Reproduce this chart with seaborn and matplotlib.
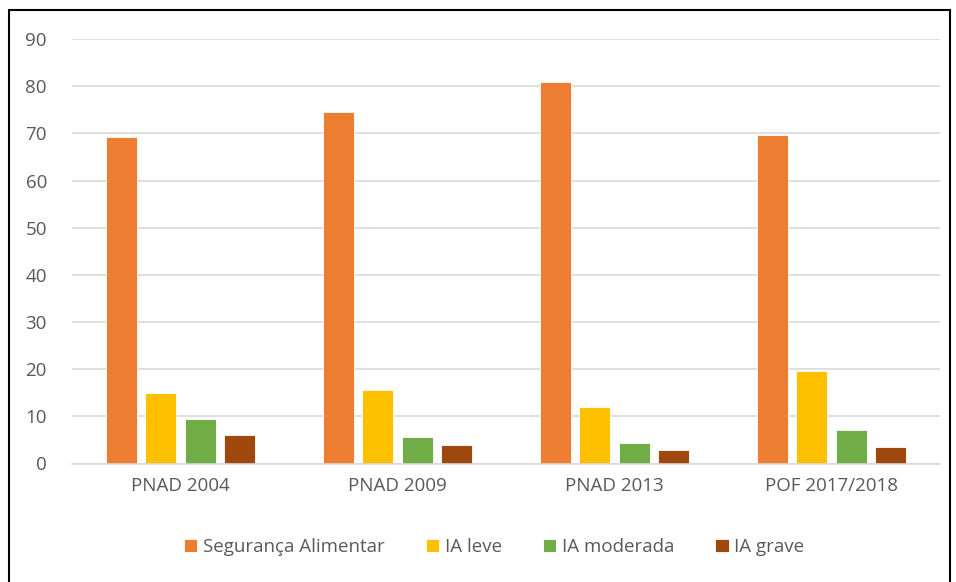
import pandas as pd
import matplotlib.pyplot as plt
import seaborn as sns
from matplotlib.patches import Rectangle

surveys = ["PNAD 2004", "PNAD 2009", "PNAD 2013", "POF 2017/2018"]
levels = ["Segurança Alimentar", "IA leve", "IA moderada", "IA grave"]
seguranca = [69.2, 74.5, 80.8, 69.7]
ia_leve = [15.0, 15.5, 12.0, 19.6]
ia_moderada = [9.5, 5.7, 4.4, 7.0]
ia_grave = [6.1, 4.0, 2.8, 3.5]
colors = ["#ED7D31", "#FFC000", "#70AD47", "#9E480E"]

rows = []
for name, vals in zip(levels, [seguranca, ia_leve, ia_moderada, ia_grave]):
    for s, v in zip(surveys, vals):
        rows.append({"survey": s, "level": name, "value": v})
df = pd.DataFrame(rows)

sns.set_theme(style="white")
plt.rcParams["font.family"] = ["Open Sans", "DejaVu Sans"]

fig = plt.figure(figsize=(9.56, 5.82), dpi=100)
ax = fig.add_axes([72 / 956, 1 - 463.5 / 582, 868 / 956, 424.5 / 582])

sns.barplot(data=df, x="survey", y="value", hue="level", order=surveys,
            hue_order=levels, palette=colors, saturation=1, width=0.73, gap=0.22,
            edgecolor="white", linewidth=0.6, ax=ax)

ax.set_xlim(-0.5, 3.5)
ax.set_ylim(0, 90)
ax.set_yticks(range(0, 91, 10))
ax.grid(axis="y", color="#D9D9D9", linewidth=1.2)
ax.set_axisbelow(True)
for side in ["top", "right", "left"]:
    ax.spines[side].set_visible(False)
ax.spines["bottom"].set_color("#D9D9D9")
ax.spines["bottom"].set_linewidth(1.2)
ax.tick_params(axis="both", length=0, labelsize=13.5, labelcolor="#595959")
ax.tick_params(axis="y", pad=18)
ax.tick_params(axis="x", pad=10)
ax.set_xlabel("")
ax.set_ylabel("")

handles, labels = ax.get_legend_handles_labels()
ax.legend_.remove()
fig.legend(handles, labels, loc="center", bbox_to_anchor=(0.517, 1 - 547 / 582),
           ncol=4, frameon=False, fontsize=13.5, labelcolor="#595959",
           handlelength=0.7, handleheight=0.7, handletextpad=0.3, columnspacing=2.2)

fig.patches.append(Rectangle((9 / 956, -0.01), 941 / 956, 1 - 10 / 582 + 0.01,
                             transform=fig.transFigure, fill=False,
                             edgecolor="black", linewidth=1.5))

fig.savefig("out.png", dpi=100)
